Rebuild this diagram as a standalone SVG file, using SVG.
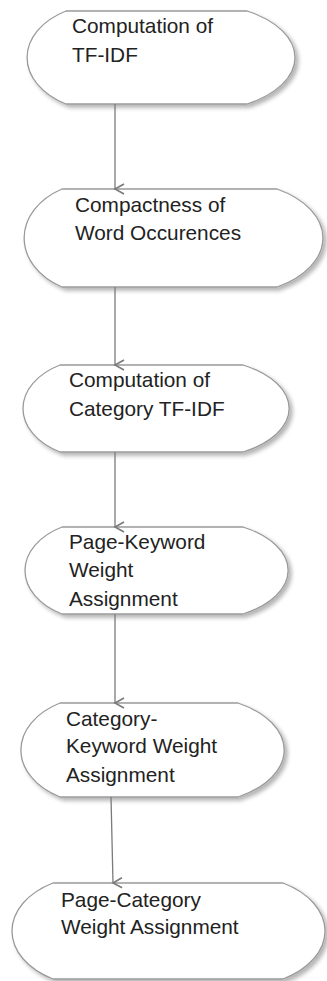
<svg xmlns="http://www.w3.org/2000/svg" width="327" height="981" viewBox="0 0 327 981">
<defs>
<filter id="sh" x="-10%" y="-10%" width="125%" height="130%">
<feGaussianBlur in="SourceAlpha" stdDeviation="2"/>
<feOffset dx="3" dy="3" result="b"/>
<feComponentTransfer><feFuncA type="linear" slope="0.3"/></feComponentTransfer>
<feMerge><feMergeNode/><feMergeNode in="SourceGraphic"/></feMerge>
</filter>
<marker id="arr" markerWidth="14" markerHeight="14" refX="7" refY="12" orient="auto" markerUnits="userSpaceOnUse" viewBox="0 0 14 14">
<path d="M2,3 L7,12 L12,3" fill="none" stroke="#7a7a7a" stroke-width="1.6"/>
</marker>
</defs>
<style>
.n{fill:#fff;stroke:#9a9a9a;stroke-width:1.3;filter:url(#sh)}
.t{font-family:"Liberation Sans",Arial,sans-serif;font-size:20.8px;fill:#222}
.c{stroke:#7a7a7a;stroke-width:1.3;fill:none;marker-end:url(#arr)}
</style>
<rect width="327" height="981" fill="#fff"/>
<g id="n1">
<path class="n" d="M66,11 L247,11 A95,53.5 0 0 1 247,104 L66,104 A77,53.5 0 0 1 66,11 Z"/>
<text class="t" x="72" y="33">Computation of</text>
<text class="t" x="72" y="62">TF-IDF</text>
</g>
<g id="n2">
<path class="n" d="M62,189 L277,189 A91,56.4 0 0 1 277,287 L62,287 A75,56.4 0 0 1 62,189 Z"/>
<text class="t" x="75" y="212">Compactness of</text>
<text class="t" x="75" y="240">Word Occurences</text>
</g>
<g id="n3">
<path class="n" d="M60,365 L243,365 A91,50 0 0 1 243,452 L60,452 A73,50 0 0 1 60,365 Z"/>
<text class="t" x="69" y="387">Computation of</text>
<text class="t" x="69" y="416">Category TF-IDF</text>
</g>
<g id="n4">
<path class="n" d="M62,527 L243,527 A89,50 0 0 1 243,614 L62,614 A73,50 0 0 1 62,527 Z"/>
<text class="t" x="69" y="549">Page-Keyword</text>
<text class="t" x="69" y="577">Weight</text>
<text class="t" x="69" y="606">Assignment</text>
</g>
<g id="n5">
<path class="n" d="M60,703 L238,703 A91,54 0 0 1 238,797 L60,797 A77,54 0 0 1 60,703 Z"/>
<text class="t" x="66" y="726">Category-</text>
<text class="t" x="66" y="753">Keyword Weight</text>
<text class="t" x="66" y="782">Assignment</text>
</g>
<g id="n6">
<path class="n" d="M53,883 L283,883 A83,55.2 0 0 1 283,979 L53,979 A81,55.2 0 0 1 53,883 Z"/>
<text class="t" x="61" y="907">Page-Category</text>
<text class="t" x="61" y="934">Weight Assignment</text>
</g>
<g id="connectors">
<line class="c" x1="115" y1="104" x2="115" y2="189"/>
<line class="c" x1="115" y1="287" x2="115" y2="365"/>
<line class="c" x1="115" y1="452" x2="115" y2="527"/>
<line class="c" x1="115" y1="614" x2="115" y2="703"/>
<line class="c" x1="111" y1="797" x2="113" y2="883"/>
</g>
</svg>
